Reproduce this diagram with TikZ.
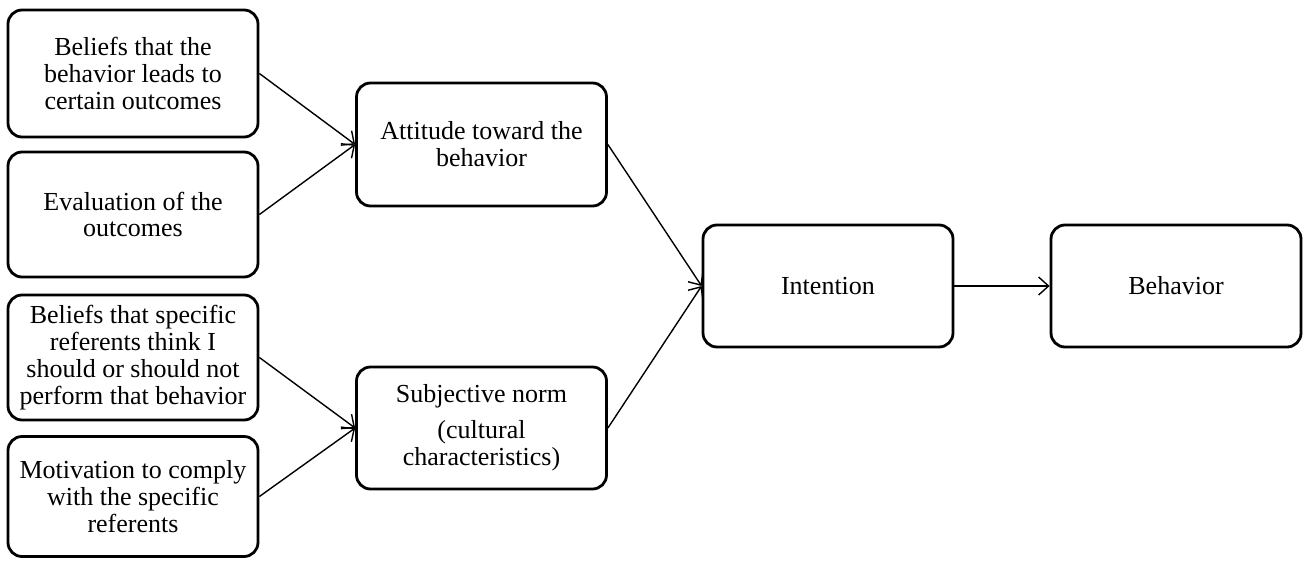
\documentclass[tikz,border=0pt]{standalone}
\usepackage{fontspec}
\setmainfont{Liberation Serif}
\usetikzlibrary{arrows.meta}

\begin{document}
\begin{tikzpicture}
        [
            x = 0.5pt, y = -0.5pt,
            box/.style = {draw, line width = 1.4pt, rounded corners = 7pt, align = center,
                          minimum width = 125pt, font = \fontsize{13}{13.4}\selectfont},
            link/.style = {line width = 0.7pt, -{Straight Barb[length = 5pt, width = 9pt]}}
        ]

        \useasboundingbox (0,0) rectangle (1310,562);

        \node [box, minimum height = 63.5pt] (belief)  at (133,73.5) {Beliefs that the\\ behavior leads to\\ certain outcomes};
        \node [box, minimum height = 62.5pt] (eval)    at (133,214.5) {Evaluation of the\\ outcomes};
        \node [box, minimum height = 62.5pt] (refer)   at (133,357.5) {Beliefs that specific\\ referents think I\\ should or should not\\ perform that behavior};
        \node [box, minimum height = 60pt]   (comply)  at (133,496.5) {Motivation to comply\\ with the specific\\ referents};

        \node [box, minimum height = 61.5pt] (attitude) at (481.5,144.5) {Attitude toward the\\ behavior};
        \node [box, minimum height = 61pt]   (norm)     at (481.5,428) {Subjective norm\\[4.5pt] (cultural\\ characteristics)};

        \node [box, minimum height = 61pt] (intention) at (828,286) {Intention};
        \node [box, minimum height = 61pt] (behavior)  at (1176,286) {Behavior};

        \draw [link] (belief.east) -- (attitude.west);
        \draw [link] (eval.east) -- (attitude.west);
        \draw [link] (refer.east) -- (norm.west);
        \draw [link] (comply.east) -- (norm.west);
        \draw [link] (attitude.east) -- (intention.west);
        \draw [link] (norm.east) -- (intention.west);
        \draw [link] (intention) -- (behavior);
    \end{tikzpicture}
\end{document}
